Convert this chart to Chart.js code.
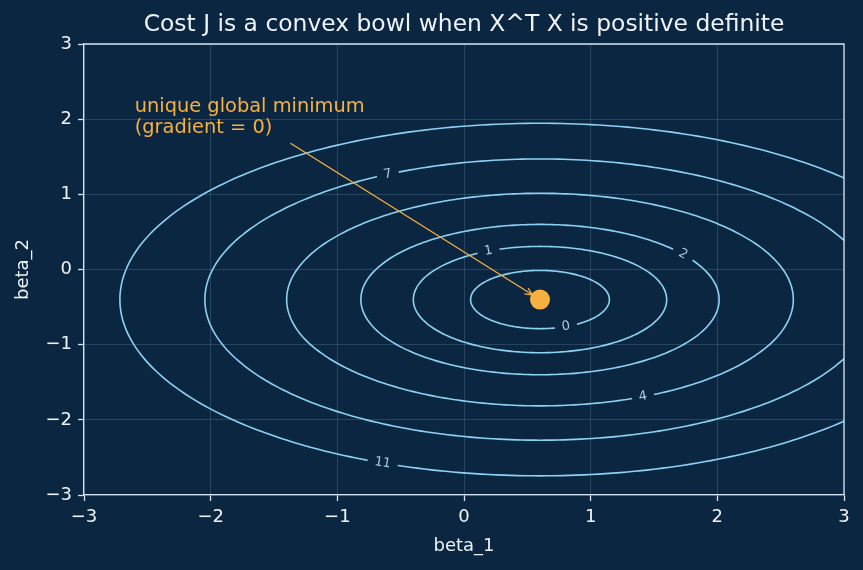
<!DOCTYPE html>
<html>
<head>
<meta charset="utf-8">
<script src="https://cdn.jsdelivr.net/npm/chart.js@4.4.1/dist/chart.umd.min.js"></script>
<style>
  html, body { margin: 0; background: #0b2640; }
  #wrap { width: 863px; height: 570px; }
</style>
</head>
<body>
<div id="wrap"><canvas id="chart"></canvas></div>
<script>
// cost J = w1*(b1 - m1)^2 + w2*(b2 - m2)^2
const minimum = [0.6, -0.4];
const weights = [1, 2];
const ringLevels = [0.3, 1, 2, 4, 7, 11];
const ringLabels = ["0", "1", "2", "4", "7", "11"];
const labelAngles = [-68, 114, 37, -66, 117, -112]; // where each label sits on its ring, degrees
const xTickValues = [-3, -2, -1, 0, 1, 2, 3];
const yTickValues = [-3, -2, -1, 0, 1, 2, 3];
const noteLines = ["unique global minimum", "(gradient = 0)"];
const noteAt = [-2.6, 1.81];
const arrowFrom = [-1.37, 1.68];

const BG = "#0b2640";
const RING = "#8cd2f4";
const RING_TEXT = "#a2cde6";
const ORANGE = "#f7b140";
const SPINE = "#d4e4f2";
const TEXT = "#eef3f8";
const FONT = "'DejaVu Sans', sans-serif";

Chart.defaults.font.family = FONT;
Chart.defaults.color = TEXT;

function ringPoint(level, deg) {
  const t = (deg * Math.PI) / 180;
  return {
    x: minimum[0] + Math.sqrt(level / weights[0]) * Math.cos(t),
    y: minimum[1] + Math.sqrt(level / weights[1]) * Math.sin(t),
  };
}

function ring(level) {
  const pts = [];
  for (let d = 0; d <= 362; d += 2) pts.push(ringPoint(level, d));
  return pts;
}

const fmtTick = (v) => String(v).replace("-", "\u2212");

const overlay = {
  id: "overlay",
  afterDatasetsDraw(chart) {
    const { ctx, chartArea: a, scales: { x, y } } = chart;
    ctx.save();

    // contour labels cut into their rings
    ctx.font = `13px ${FONT}`;
    ctx.textAlign = "center";
    ctx.textBaseline = "middle";
    ringLevels.forEach((lv, i) => {
      const p = ringPoint(lv, labelAngles[i]);
      const q = ringPoint(lv, labelAngles[i] + 1);
      const px = x.getPixelForValue(p.x);
      const py = y.getPixelForValue(p.y);
      let ang = Math.atan2(y.getPixelForValue(q.y) - py, x.getPixelForValue(q.x) - px);
      if (ang > Math.PI / 2) ang -= Math.PI;
      if (ang < -Math.PI / 2) ang += Math.PI;
      const w = ctx.measureText(ringLabels[i]).width + 14;
      ctx.save();
      ctx.translate(px, py);
      ctx.rotate(ang);
      ctx.fillStyle = BG;
      ctx.fillRect(-w / 2, -5, w, 10);
      ctx.fillStyle = RING_TEXT;
      ctx.fillText(ringLabels[i], 0, 0);
      ctx.restore();
    });

    // arrow to the minimum
    const x0 = x.getPixelForValue(arrowFrom[0]);
    const y0 = y.getPixelForValue(arrowFrom[1]);
    const cx = x.getPixelForValue(minimum[0]);
    const cy = y.getPixelForValue(minimum[1]);
    const dir = Math.atan2(cy - y0, cx - x0);
    const x1 = cx - 9 * Math.cos(dir);
    const y1 = cy - 9 * Math.sin(dir);
    ctx.strokeStyle = ORANGE;
    ctx.lineWidth = 1.3;
    ctx.beginPath();
    ctx.moveTo(x0, y0);
    ctx.lineTo(x1, y1);
    for (const s of [-1, 1]) {
      ctx.moveTo(x1, y1);
      ctx.lineTo(x1 - 8 * Math.cos(dir + s * 0.45), y1 - 8 * Math.sin(dir + s * 0.45));
    }
    ctx.stroke();

    // note text
    ctx.font = `19.4px ${FONT}`;
    ctx.textAlign = "left";
    ctx.textBaseline = "alphabetic";
    ctx.fillStyle = ORANGE;
    const nx = x.getPixelForValue(noteAt[0]);
    const ny = y.getPixelForValue(noteAt[1]);
    noteLines.forEach((t, i) => ctx.fillText(t, nx, ny - (noteLines.length - 1 - i) * 21.5));

    // top and right spines
    ctx.strokeStyle = SPINE;
    ctx.lineWidth = 1.3;
    ctx.beginPath();
    ctx.moveTo(a.left, a.top);
    ctx.lineTo(a.right, a.top);
    ctx.lineTo(a.right, a.bottom);
    ctx.stroke();

    // title, centred over the plot area
    ctx.font = `23.4px ${FONT}`;
    ctx.textAlign = "center";
    ctx.fillStyle = TEXT;
    ctx.fillText("Cost J is a convex bowl when X^T X is positive definite", (a.left + a.right) / 2, 31);
    ctx.restore();
  },
};

const datasets = [
  {
    data: [{ x: minimum[0], y: minimum[1] }],
    pointRadius: 10,
    pointBackgroundColor: ORANGE,
    pointBorderWidth: 0,
    showLine: false,
  },
  ...ringLevels.map((lv) => ({
    data: ring(lv),
    showLine: true,
    borderColor: RING,
    borderWidth: 1.6,
    borderJoinStyle: "round",
    borderCapStyle: "round",
    pointRadius: 0,
    tension: 0.2, // keeps Chart.js off its per-pixel fast path, which made the ring ends jagged
  })),
];

const axisCommon = (ticks, title, tpad) => ({
  type: "linear",
  min: -3,
  max: 3,
  afterBuildTicks: (s) => { s.ticks = ticks.map((v) => ({ value: v })); },
  ticks: { color: TEXT, font: { size: 18 }, padding: 6, callback: fmtTick },
  grid: {
    color: "rgba(140,180,215,0.28)",
    lineWidth: 0.8,
    tickColor: SPINE,
    tickLength: 6,
    tickWidth: 1.3,
  },
  border: { color: SPINE, width: 1.3 },
  title: { display: true, text: title, color: TEXT, font: { size: 18 }, padding: tpad },
});

new Chart(document.getElementById("chart"), {
  type: "scatter",
  data: { datasets },
  options: {
    responsive: true,
    maintainAspectRatio: false,
    animation: false,
    layout: { padding: { top: 44, right: 19, left: 0, bottom: 0 } },
    plugins: { legend: { display: false }, tooltip: { enabled: false } },
    scales: {
      x: {
        ...axisCommon(xTickValues, "beta_1", { top: 0, bottom: 13 }),
        afterFit: (s) => { s.height = 75; },
      },
      y: {
        ...axisCommon(yTickValues, "beta_2", { top: 13, bottom: 0 }),
        afterFit: (s) => { s.width = 84; },
      },
    },
  },
  plugins: [overlay],
});
</script>
</body>
</html>
